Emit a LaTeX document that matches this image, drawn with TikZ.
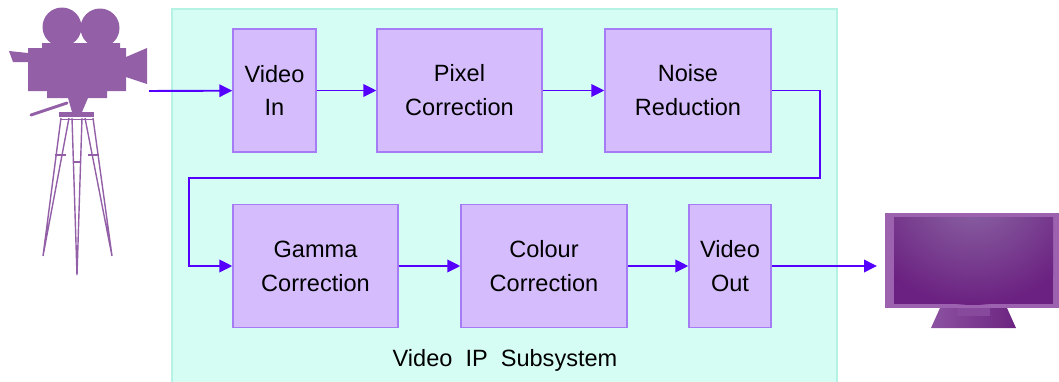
\documentclass[tikz,border=0pt]{standalone}
\usepackage{fontspec}
\setmainfont{Liberation Sans}
\usetikzlibrary{arrows.meta}

\definecolor{subsysfill}{HTML}{D6FDF4}
\definecolor{subsysedge}{HTML}{B4F2E4}
\definecolor{blockfill}{HTML}{D5BDFD}
\definecolor{blockedge}{HTML}{A67CF4}
\definecolor{flowblue}{HTML}{5500FF}
\definecolor{campurple}{HTML}{9360A8}
\definecolor{monframe}{HTML}{9C62B0}
\definecolor{screenlight}{HTML}{8D6AA6}
\definecolor{screendark}{HTML}{6B2181}
\definecolor{standlight}{HTML}{8C52A2}
\definecolor{standdark}{HTML}{6C2480}

\begin{document}
\begin{tikzpicture}[x=0.02cm, y=-0.02cm,
	block/.style={draw=blockedge, fill=blockfill, line width=0.8pt, minimum height=2.46cm,
		inner sep=0pt, align=center, font=\fontsize{13.4}{19.3}\selectfont},
	flow/.style={draw=flowblue, line width=1.1pt, -{Triangle[length=0.26cm, width=0.25cm]}},
	leg/.style={draw=campurple, line width=0.8pt}
]
	\useasboundingbox (0,0) rectangle (1059,382);

	% subsystem area
	\filldraw [fill=subsysfill, draw=subsysedge, line width=1pt]	(172,9) rectangle (837,390);
	\node [font=\fontsize{13.4}{17}\selectfont] (subsys) at (505,360) {Video\ \ IP\ \ Subsystem};

	% processing chain
	\node [block, minimum width=1.66cm] (vin)		at (274.5,90.5)	{Video\\In};
	\node [block, minimum width=3.30cm] (pixel)	at (459.5,90.5)	{Pixel\\Correction};
	\node [block, minimum width=3.32cm] (noise)	at (688,90.5)		{Noise\\Reduction};
	\node [block, minimum width=3.30cm] (gamma)	at (315.5,266)		{Gamma\\Correction};
	\node [block, minimum width=3.32cm] (colour)	at (544,266)		{Colour\\Correction};
	\node [block, minimum width=1.64cm] (vout)	at (730,266)		{Video\\Out};

	\coordinate (camout)	at (149,91);
	\coordinate (monin)	at (877,266);
	\coordinate (turnA)	at (820,178);
	\coordinate (turnB)	at (189,178);

	\draw [flow]	(camout) to (vin);
	\draw [flow]	(vin) to (pixel);
	\draw [flow]	(pixel) to (noise);
	\draw [flow]	(noise.east) -- (noise.east -| turnA) -- (turnA) -- (turnB) |- (gamma.west);
	\draw [flow]	(gamma) to (colour);
	\draw [flow]	(colour) to (vout);
	\draw [flow]	(vout) to (monin);

	% camera
	\fill [campurple]	(62,27) circle (19.5)
						(100,28) circle (19.5);
	\fill [campurple]	(28,48) -- (42,48) -- (42,43) -- (120,43) -- (120,48) -- (126,48)
						-- (126,91) -- (107,91) -- (107,98) -- (47,98) -- (47,91) -- (28,91) -- cycle;
	\fill [campurple]	(9,51) -- (28,53) -- (28,62) -- (13,62) -- cycle;
	\fill [campurple]	(126,57) -- (147,48) -- (147,84) -- (126,77) -- cycle;
	\fill [campurple]	(68,98) -- (88,98) -- (85,105) -- (82,112) -- (72,112) -- (70,105) -- cycle;
	\draw [campurple, line width=0.06cm, line cap=round]	(31,115) -- (67,103);
	\fill [campurple]	(59,112) rectangle (94,117);
	\draw [leg]	(60,119.5) -- (93,119.5);

	\draw [leg]	(61,118) -- (43,256) -- (69,118);
	\draw [leg]	(72,118) -- (77,275) -- (82,118);
	\draw [leg]	(85,118) -- (112,256) -- (93,118);
	\draw [leg]	(55,155) -- (66,155)
				(88,155) -- (99,155)
				(73,162) -- (81,162);

	% monitor
	\fill [monframe]	(885,213) rectangle (1059,308);
	\begin{scope}
		\clip (894,217) rectangle (1053,304);
		\fill [screendark]	(894,217) rectangle (1053,304);
		\shade [inner color=screenlight, outer color=screendark]	(973,190) ellipse (120 and 115);
	\end{scope}
	\shade [left color=standlight, right color=standdark]	(940,308) -- (1007,308) -- (1016,328) -- (931,328) -- cycle;
	\fill [standlight!80!standdark]	(957,308) rectangle (990,316);
\end{tikzpicture}
\end{document}
